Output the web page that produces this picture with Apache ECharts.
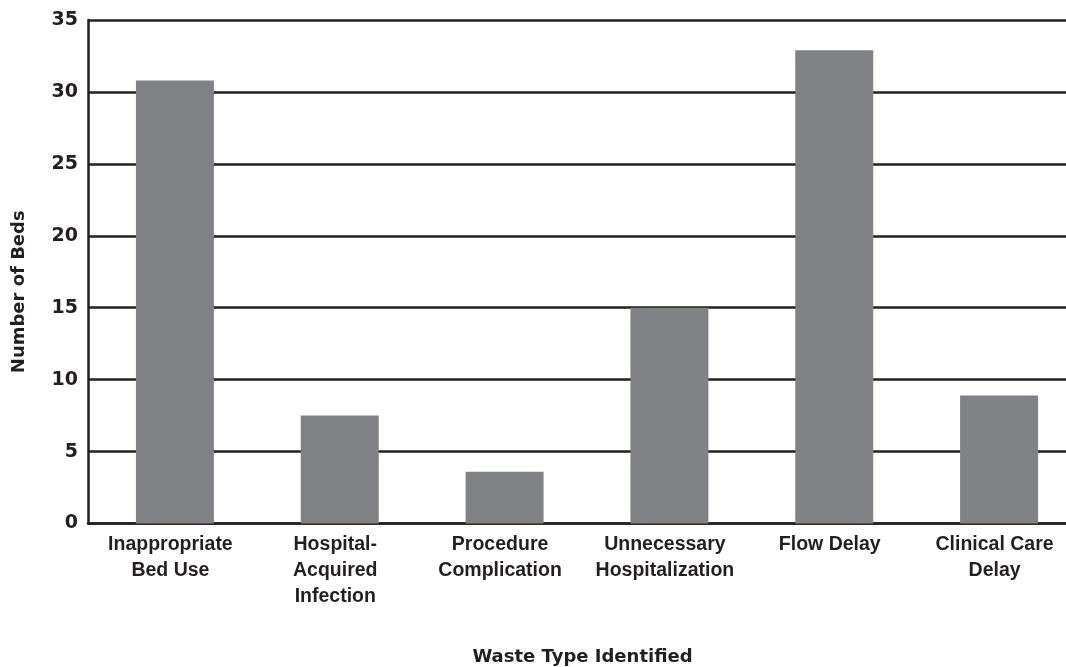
<!DOCTYPE html>
<html>
<head>
<meta charset="utf-8">
<script src="https://cdn.jsdelivr.net/npm/echarts@6/dist/echarts.min.js"></script>
<style>
html,body{margin:0;padding:0;background:#fff;}
#chart{width:1066px;height:667px;}
</style>
</head>
<body>
<div id="chart"></div>
<script>
const categories = ["Inappropriate\nBed Use", "Hospital-\nAcquired\nInfection", "Procedure\nComplication", "Unnecessary\nHospitalization", "Flow Delay", "Clinical Care\nDelay"];
const beds = [30.8, 7.5, 3.6, 15, 32.9, 8.9];
const yTicks = { min: 0, max: 35, interval: 5 };
const xName = "Waste Type Identified";
const yName = "Number of Beds";

const ink = '#231f20';
const chart = echarts.init(document.getElementById('chart'), null, { renderer: 'canvas' });
chart.setOption({
  animation: false,
  backgroundColor: '#ffffff',
  grid: { left: 88, right: -11, top: 20, bottom: 143.5, containLabel: false, outerBoundsMode: 'none' },
  xAxis: {
    type: 'category',
    data: categories,
    name: xName,
    nameLocation: 'middle',
    nameGap: 125,
    nameTextStyle: { fontFamily: 'DejaVu Sans', fontWeight: 'bold', fontSize: 18, color: ink },
    axisLine: { show: true, lineStyle: { color: ink, width: 2.5 } },
    axisTick: { show: false },
    axisLabel: {
      interval: 0,
      margin: 8,
      fontFamily: 'Liberation Sans',
      fontWeight: 'bold',
      fontSize: 19.5,
      lineHeight: 26,
      color: ink
    }
  },
  yAxis: {
    type: 'value',
    min: yTicks.min,
    max: yTicks.max,
    interval: yTicks.interval,
    name: yName,
    nameLocation: 'middle',
    nameGap: 60,
    nameTextStyle: { fontFamily: 'DejaVu Sans', fontWeight: 'bold', fontSize: 18, color: ink, padding: [0, 40, 0, 0] },
    axisLine: { show: true, lineStyle: { color: ink, width: 2.5 } },
    axisTick: { show: false },
    splitLine: { show: true, lineStyle: { color: ink, width: 2.5 } },
    axisLabel: {
      margin: 10,
      fontFamily: 'DejaVu Sans',
      fontWeight: 'bold',
      fontSize: 19,
      color: ink
    }
  },
  series: [
    {
      type: 'bar',
      name: 'spacer',
      data: categories.map(() => null),
      barWidth: 9,
      silent: true,
      itemStyle: { color: 'rgba(0,0,0,0)' }
    },
    {
      type: 'bar',
      name: yName,
      data: beds,
      barWidth: 78,
      barGap: '0%',
      itemStyle: { color: '#818285' }
    }
  ]
});
</script>
</body>
</html>
